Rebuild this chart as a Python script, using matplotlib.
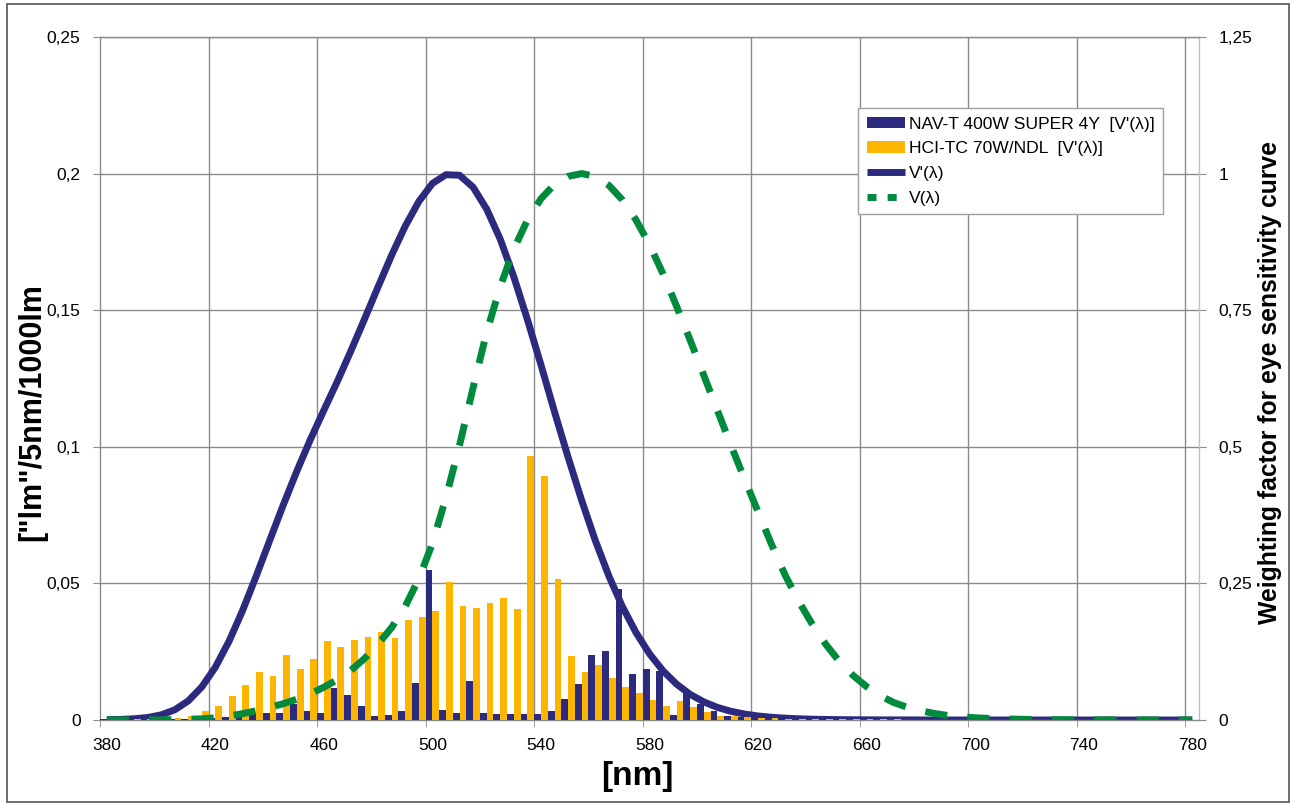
import numpy as np
import matplotlib
matplotlib.use("Agg")
import matplotlib.pyplot as plt
from matplotlib.patches import Rectangle, Patch
from matplotlib.lines import Line2D

# ---------------- data ----------------
wavelengths = list(range(380, 785, 5))  # 81 categories, 5 nm steps

nav_t_400w = [
    0.0002, 0.0002, 0.0002, 0.0003, 0.0003, 0.0004, 0.0004, 0.0005, 0.0007, 0.0011,
    0.0015, 0.0022, 0.0026, 0.0026, 0.0059, 0.0033, 0.0026, 0.0117, 0.0092, 0.0051,
    0.0015, 0.0018, 0.0033, 0.0135, 0.0549, 0.0037, 0.0026, 0.0143, 0.0026, 0.0022,
    0.0022, 0.0022, 0.0022, 0.0033, 0.0077, 0.0132, 0.0238, 0.0253, 0.0480, 0.0168,
    0.0187, 0.0180, 0.0018, 0.0098, 0.0058, 0.0033, 0.0016, 0.0011, 0.0008, 0.0006,
    0.0004, 0.0003, 0.0003, 0.0002, 0.0002, 0.0001, 0, 0, 0, 0,
    0, 0, 0, 0, 0, 0, 0, 0, 0, 0,
    0, 0, 0, 0, 0, 0, 0, 0, 0, 0,
    0]

hci_tc_70w = [
    0.0002, 0.0003, 0.0003, 0.0003, 0.0003, 0.0007, 0.0015, 0.0033, 0.0051, 0.0088,
    0.0128, 0.0176, 0.0161, 0.0238, 0.0187, 0.0223, 0.0289, 0.0267, 0.0293, 0.0304,
    0.0322, 0.0300, 0.0366, 0.0377, 0.0399, 0.0505, 0.0417, 0.0410, 0.0428, 0.0447,
    0.0406, 0.0966, 0.0893, 0.0516, 0.0234, 0.0176, 0.0201, 0.0154, 0.0121, 0.0099,
    0.0073, 0.0051, 0.0070, 0.0048, 0.0030, 0.0015, 0.0015, 0.0011, 0.0007, 0.0007,
    0.0004, 0.0004, 0.0003, 0.0003, 0.0003, 0.0003, 0.0002, 0.0002, 0.0002, 0.0001,
    0.0001, 0, 0, 0, 0, 0, 0, 0, 0, 0,
    0, 0, 0, 0, 0, 0, 0, 0, 0, 0,
    0]

# scotopic V'(lambda), CIE 1951
v_scotopic = [
    0.000589, 0.001108, 0.002209, 0.004530, 0.009290, 0.018520, 0.034840, 0.060400, 0.096600, 0.143600,
    0.199800, 0.262500, 0.328100, 0.393100, 0.455000, 0.513000, 0.567000, 0.620000, 0.676000, 0.734000,
    0.793000, 0.851000, 0.904000, 0.949000, 0.982000, 0.998000, 0.997000, 0.975000, 0.935000, 0.880000,
    0.811000, 0.733000, 0.650000, 0.564000, 0.481000, 0.402000, 0.328800, 0.263900, 0.207600, 0.160200,
    0.121200, 0.089900, 0.065500, 0.046900, 0.033150, 0.023120, 0.015930, 0.010880, 0.007370, 0.004970,
    0.003335, 0.002235, 0.001497, 0.001005, 0.000677, 0.000459, 0.000313, 0.000215, 0.000148, 0.000103,
    0.000072, 0.000050, 0.000035, 0.000025, 0.000018, 0.000013, 0.000009, 0.000007, 0.000005, 0.000003,
    0.000003, 0.000002, 0.000001, 0.000001, 0.000001, 0.000001, 0.0, 0.0, 0.0, 0.0,
    0.0]

# photopic V(lambda), CIE 1924
v_photopic = [
    0.000039, 0.000064, 0.00012, 0.000217, 0.000396, 0.00064, 0.00121, 0.00218, 0.004, 0.0073,
    0.0116, 0.01684, 0.023, 0.0298, 0.038, 0.048, 0.06, 0.0739, 0.09098, 0.1126,
    0.13902, 0.1693, 0.20802, 0.2586, 0.323, 0.4073, 0.503, 0.6082, 0.71, 0.7932,
    0.862, 0.91485, 0.954, 0.9803, 0.99495, 1.0, 0.995, 0.9786, 0.952, 0.9154,
    0.87, 0.8163, 0.757, 0.6949, 0.631, 0.5668, 0.503, 0.4412, 0.381, 0.321,
    0.265, 0.217, 0.175, 0.1382, 0.107, 0.0816, 0.061, 0.04458, 0.032, 0.0232,
    0.017, 0.01192, 0.00821, 0.005723, 0.004102, 0.002929, 0.002091, 0.001484, 0.001047, 0.00074,
    0.00052, 0.000361, 0.000249, 0.000172, 0.00012, 0.0000848, 0.00006, 0.0000424, 0.00003, 0.0000212,
    0.0000149]

left_ticks = [0, 0.05, 0.1, 0.15, 0.2, 0.25]
left_ticklabels = ["0", "0,05", "0,1", "0,15", "0,2", "0,25"]
right_ticks = [0, 0.25, 0.5, 0.75, 1.0, 1.25]
right_ticklabels = ["0", "0,25", "0,5", "0,75", "1", "1,25"]

legend_labels = ["NAV-T 400W SUPER 4Y  [V'(λ)]", "HCI-TC 70W/NDL  [V'(λ)]", "V'(λ)", "V(λ)"]

# ---------------- style ----------------
NAVY = "#2C2A7E"
ORANGE = "#FDB500"
GREEN = "#008A3C"
GRID = "#8a8a8a"

plt.rcParams["font.family"] = ["Liberation Sans", "DejaVu Sans"]

W, H = 1292, 805
fig = plt.figure(figsize=(W / 100, H / 100), dpi=100)

L, R, T, B = 100, 1199, 37, 720
rect = [L / W, 1 - B / H, (R - L) / W, (B - T) / H]

ax = fig.add_axes(rect)          # bars + left axis
ax2 = ax.twinx()                 # V' curve + right axis (behind bars)
ax3 = ax.twinx()                 # V curve (on top)

ax2.set_zorder(1)
ax.set_zorder(2)
ax3.set_zorder(3)
ax.patch.set_visible(False)
ax3.patch.set_visible(False)
ax2.patch.set_visible(True)
ax2.patch.set_facecolor("white")

n = len(wavelengths)
x = np.arange(n)

# bars
ax.bar(x - 0.25, nav_t_400w, width=0.5, color=NAVY, linewidth=0, zorder=3)
ax.bar(x + 0.25, hci_tc_70w, width=0.5, color=ORANGE, linewidth=0, zorder=3)

# curves
ax2.plot(x, v_scotopic, color=NAVY, lw=5.0, solid_capstyle="butt", solid_joinstyle="round", zorder=3)
ax3.plot(x, v_photopic, color=GREEN, lw=5.0, dashes=(3.2, 2.9), dash_capstyle="butt", zorder=3)

for a in (ax, ax2, ax3):
    a.set_xlim(-0.5, n - 0.5)
ax.set_ylim(0, 0.25)
ax2.set_ylim(0, 1.25)
ax3.set_ylim(0, 1.25)

# gridlines (behind everything, on ax2)
boundaries = np.arange(-0.5, n, 8)
for b in boundaries[1:]:
    ax2.axvline(b, color=GRID, lw=1.0, zorder=0)
for yv in right_ticks[1:]:
    ax2.axhline(yv, color=GRID, lw=1.0, zorder=0)

# x axis ticks: labels centered on categories, tick marks on boundaries
label_idx = list(range(0, n, 8))
ax.set_xticks(label_idx)
ax.set_xticklabels([str(wavelengths[i]) for i in label_idx], fontsize=12.5)
ax.tick_params(axis="x", which="major", length=0, pad=13)
ax.set_xticks(boundaries, minor=True)
ax.tick_params(axis="x", which="minor", length=5, color=GRID, direction="out")

ax.set_yticks(left_ticks)
ax.set_yticklabels(left_ticklabels, fontsize=12.5)
ax.tick_params(axis="y", length=5, color=GRID, direction="out", pad=9)

ax2.set_yticks(right_ticks)
ax2.set_yticklabels(right_ticklabels, fontsize=12.5)
ax2.tick_params(axis="y", length=5, color=GRID, direction="out", pad=9)

ax3.set_yticks([])
for s in ax3.spines.values():
    s.set_visible(False)

for a in (ax, ax2):
    for s in a.spines.values():
        s.set_visible(False)
ax.spines["left"].set_visible(True)
ax.spines["left"].set_color(GRID)
ax.spines["bottom"].set_visible(True)
ax.spines["bottom"].set_color(GRID)
ax2.spines["right"].set_visible(True)
ax2.spines["right"].set_color("#c0c0c0")
ax2.spines["top"].set_visible(True)
ax2.spines["top"].set_color(GRID)
for a in (ax, ax2):
    for s in a.spines.values():
        s.set_linewidth(1.0)

# axis titles
fig.text(637 / W, 1 - 776 / H, "[nm]", fontsize=24, fontweight="bold",
         ha="center", va="center")
fig.text(32 / W, 1 - 412 / H, "[\"lm\"/5nm/1000lm", fontsize=22, fontweight="bold",
         ha="center", va="center", rotation=90)
fig.text(1270 / W, 1 - 382 / H, "Weighting factor for eye sensitivity curve", fontsize=17.8,
         fontweight="bold", ha="center", va="center", rotation=90)

# legend
handles = [Patch(facecolor=NAVY, edgecolor="none"),
           Patch(facecolor=ORANGE, edgecolor="none"),
           Line2D([], [], color=NAVY, lw=5, solid_capstyle="butt"),
           Line2D([], [], color=GREEN, lw=5, dashes=(1.3, 1.6), dash_capstyle="butt")]
leg = fig.legend(handles, legend_labels, loc="upper left",
                 bbox_to_anchor=(858 / W, 1 - 108 / H), fontsize=12.6,
                 frameon=True, fancybox=False, shadow=False, edgecolor="#a0a0a0",
                 framealpha=1, borderpad=0.5, labelspacing=0.55,
                 handlelength=2.2, handleheight=0.65, handletextpad=0.2, borderaxespad=0)
leg.get_frame().set_linewidth(1.0)
leg.set_zorder(10)

# outer frame
fig.patches.append(Rectangle((7 / W, 3 / H), (1289 - 7) / W, (801 - 3) / H,
                             transform=fig.transFigure, fill=False,
                             edgecolor="#555555", lw=1.2))

fig.savefig("out.png", dpi=100)
